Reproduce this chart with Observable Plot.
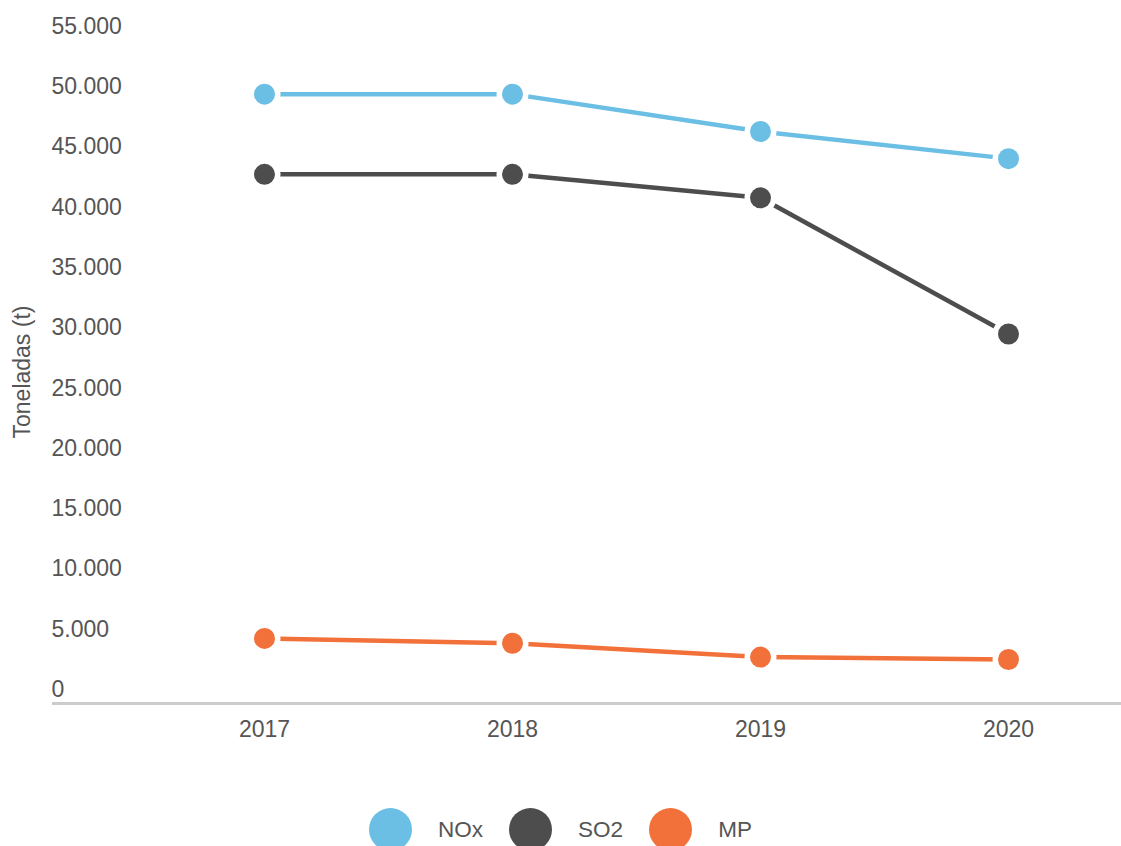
<!DOCTYPE html>
<html>
<head>
<meta charset="utf-8">
<script src="https://cdn.jsdelivr.net/npm/d3@7"></script>
<script src="https://cdn.jsdelivr.net/npm/@observablehq/plot@0.6"></script>
<style>
  html, body { margin: 0; padding: 0; background: #fff; overflow: hidden; }
  body { font-family: "Liberation Sans", Arial, Helvetica, sans-serif; color: #555; }
  #legend { display: flex; justify-content: center; align-items: center; margin-top: 18px; font-size: 22.5px; color: #555; }
  #legend .item { display: flex; align-items: center; margin: 0 13px; }
  #legend .sw { width: 43px; height: 43px; border-radius: 50%; margin-right: 26px; }
</style>
</head>
<body>
<div id="chart"></div>
<script>
const years = ["2017", "2018", "2019", "2020"];
const seriesNames = ["NOx", "SO2", "MP"];
const seriesColors = ["#6bbee4", "#4d4d4d", "#f27039"];
const noxValues = [50550, 50550, 47450, 45200];
const so2Values = [43900, 43900, 41950, 30650];
const mpValues = [5400, 5000, 3850, 3650];
const yTicks = [0, 5000, 10000, 15000, 20000, 25000, 30000, 35000, 40000, 45000, 50000, 55000];
const yTitle = "Toneladas (t)";

const valuesBySeries = [noxValues, so2Values, mpValues];
const data = [];
seriesNames.forEach((s, i) => {
  years.forEach((yr, j) => data.push({series: s, year: yr, value: valuesBySeries[i][j]}));
});

const fmt = d3.formatLocale({decimal: ",", thousands: ".", grouping: [3], currency: ["", ""]}).format(",");

const chart = Plot.plot({
  width: 1121,
  height: 790,
  marginLeft: 52,
  marginRight: 0,
  marginTop: 40,
  marginBottom: 87,
  style: {fontFamily: '"Liberation Sans", Arial, Helvetica, sans-serif', fontSize: "23px", color: "#555", background: "#fff"},
  x: {type: "point", domain: years, range: [263, 1009], padding: 0},
  y: {domain: [0, 55000]},
  color: {domain: seriesNames, range: seriesColors},
  marks: [
    Plot.axisY({ticks: yTicks, tickSize: 0, tickPadding: 0, textAnchor: "start", dx: -1, dy: -14, tickFormat: fmt, fontSize: 23, fill: "#555", label: null}),
    Plot.axisX({tickSize: 0, tickPadding: 17, fontSize: 23, fill: "#555", label: null}),
    Plot.text([yTitle], {frameAnchor: "left", dx: -30, rotate: -90, textAnchor: "middle", fontSize: 23, fill: "#555"}),
    Plot.ruleY([0], {stroke: "#cccccc", strokeWidth: 3}),
    Plot.line(data, {x: "year", y: "value", z: "series", stroke: "series", strokeWidth: 4.5}),
    Plot.dot(data, {x: "year", y: "value", r: 16, fill: "white"}),
    Plot.dot(data, {x: "year", y: "value", r: 10.5, fill: "series"})
  ]
});
document.getElementById("chart").appendChild(chart);

const legend = document.createElement("div");
legend.id = "legend";
seriesNames.forEach((s, i) => {
  const item = document.createElement("div");
  item.className = "item";
  const sw = document.createElement("span");
  sw.className = "sw";
  sw.style.background = seriesColors[i];
  const t = document.createElement("span");
  t.textContent = s;
  item.appendChild(sw);
  item.appendChild(t);
  legend.appendChild(item);
});
document.getElementById("chart").appendChild(legend);
</script>
</body>
</html>
